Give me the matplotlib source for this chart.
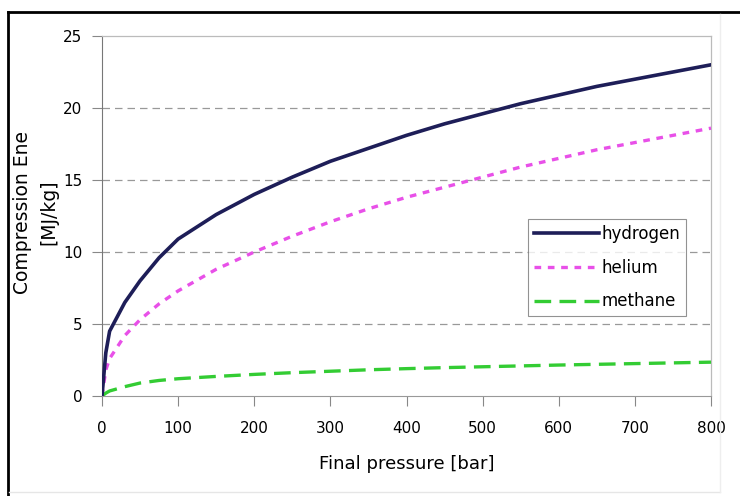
import matplotlib
matplotlib.use("Agg")
import matplotlib.pyplot as plt
from matplotlib.lines import Line2D

plt.rcParams['font.family'] = ['DejaVu Sans']

# values
pressure = [0, 5, 10, 20, 30, 50, 75, 100, 150, 200, 250, 300, 350, 400, 450, 500, 550, 600, 650, 700, 750, 800]
hydrogen = [0, 3.0, 4.5, 5.5, 6.5, 8.0, 9.6, 10.9, 12.6, 14.0, 15.2, 16.3, 17.2, 18.1, 18.9, 19.6, 20.3, 20.9, 21.5, 22.0, 22.5, 23.0]
helium = [0, 1.8, 2.6, 3.4, 4.2, 5.3, 6.4, 7.3, 8.8, 10.0, 11.1, 12.1, 13.0, 13.8, 14.5, 15.2, 15.9, 16.5, 17.1, 17.6, 18.1, 18.6]
methane = [0, 0.2, 0.35, 0.5, 0.65, 0.9, 1.08, 1.2, 1.36, 1.5, 1.62, 1.72, 1.82, 1.9, 1.97, 2.03, 2.09, 2.15, 2.2, 2.25, 2.3, 2.35]

xticks = [0, 100, 200, 300, 400, 500, 600, 700, 800]
yticks = [0, 5, 10, 15, 20, 25]

fig = plt.figure(figsize=(7.4, 4.96), dpi=100)
ax = fig.add_axes([102 / 740, 1 - 396 / 496, 609 / 740, 360 / 496])

for y in yticks[1:-1]:
    ax.axhline(y, color="#999999", lw=0.9, ls=(0, (6, 4)), zorder=1)

ax.plot(pressure, hydrogen, color="#1e1e58", lw=2.6, label="hydrogen", zorder=4)
ax.plot(pressure, helium, color="#e850e8", lw=2.4, ls=(0, (2, 2)), label="helium", zorder=3)
ax.plot(pressure, methane, color="#33cc33", lw=2.4, ls=(0, (5, 2.5)), label="methane", zorder=3)

ax.set_xlim(0, 800)
ax.set_ylim(0, 25)
ax.set_xticks(xticks)
ax.set_yticks(yticks)
ax.tick_params(direction="out", length=7, width=0.8, color="#888888",
               labelsize=11)
ax.tick_params(axis="x", pad=11)
ax.tick_params(axis="y", pad=7)

for side in ["top", "right"]:
    ax.spines[side].set_color("#bbbbbb")
    ax.spines[side].set_linewidth(0.9)
ax.spines["left"].set_color("#777777")
ax.spines["bottom"].set_color("#999999")

ax.set_xlabel("Final pressure [bar]", fontsize=13, labelpad=14)
ax.set_ylabel("Compression Ene\n[MJ/kg]", fontsize=13.5, linespacing=1.45)
ax.yaxis.set_label_coords(-0.072, 0.51)

leg = ax.legend(loc="upper left", bbox_to_anchor=(0.6995, 0.492), fontsize=12,
                frameon=True, fancybox=False, edgecolor="#777777",
                handlelength=3.9, handletextpad=0.15, borderpad=0.35,
                labelspacing=0.95, borderaxespad=0)
leg.get_frame().set_linewidth(0.8)

# black frame along top and left of the picture, faint grey on the other sides
fig.add_artist(Line2D([8 / 740, 1], [1 - 12 / 496, 1 - 12 / 496],
                      transform=fig.transFigure, color="black", lw=2))
fig.add_artist(Line2D([8 / 740, 8 / 740], [0, 1 - 12 / 496],
                      transform=fig.transFigure, color="black", lw=2))
fig.add_artist(Line2D([9 / 740, 720 / 740], [1 - 492 / 496, 1 - 492 / 496],
                      transform=fig.transFigure, color="#e6e6e6", lw=1))
fig.add_artist(Line2D([720 / 740, 720 / 740], [1 - 492 / 496, 1 - 14 / 496],
                      transform=fig.transFigure, color="#eeeeee", lw=1))

fig.savefig("out.png", dpi=100)
